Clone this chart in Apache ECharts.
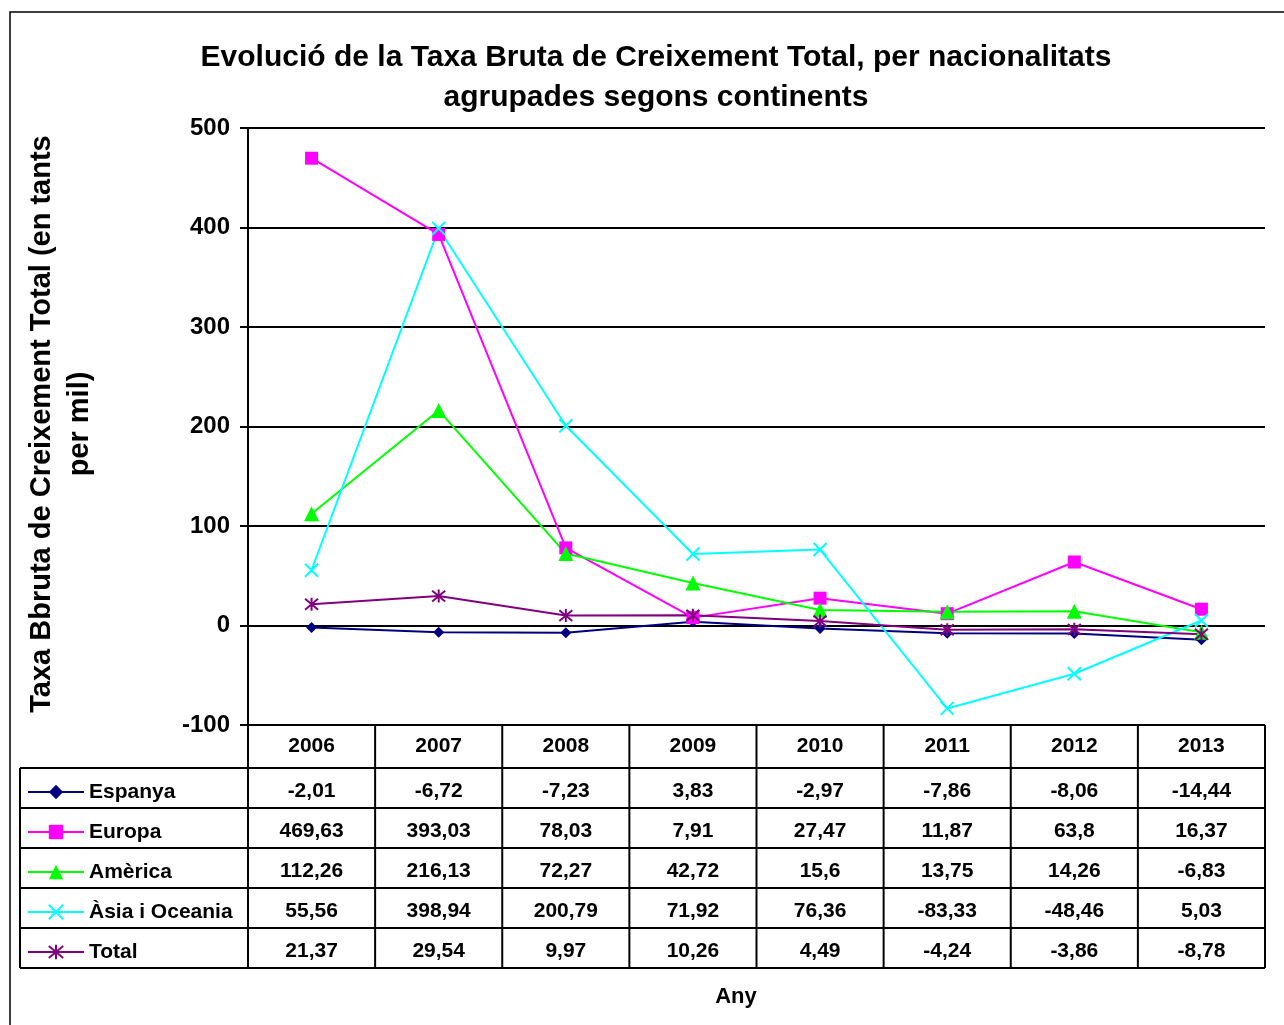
<!DOCTYPE html>
<html>
<head>
<meta charset="utf-8">
<script src="https://cdn.jsdelivr.net/npm/echarts@6/dist/echarts.min.js"></script>
<style>
    html,body{margin:0;padding:0;background:#fff;}
    #chart{width:1284px;height:1025px;}
</style>
</head>
<body>
<div id="chart"></div>
<script>
    // dades
    let years = ['2006','2007','2008','2009','2010','2011','2012','2013'];
    let names = ['Espanya','Europa','Amèrica','Àsia i Oceania','Total'];
    let espanya = [-2.01, -6.72, -7.23, 3.83, -2.97, -7.86, -8.06, -14.44];
    let europa = [469.63, 393.03, 78.03, 7.91, 27.47, 11.87, 63.8, 16.37];
    let america = [112.26, 216.13, 72.27, 42.72, 15.6, 13.75, 14.26, -6.83];
    let asia = [55.56, 398.94, 200.79, 71.92, 76.36, -83.33, -48.46, 5.03];
    let total = [21.37, 29.54, 9.97, 10.26, 4.49, -4.24, -3.86, -8.78];
    let yTicks = [-100, 0, 100, 200, 300, 400, 500];

    let font = '"Liberation Sans", Arial, sans-serif';
    let gridLeft = 248, gridRight = 1265, gridTop = 128, gridBottom = 725;
    let colW = (gridRight - gridLeft) / years.length;
    let rowTop = 768, rowH = 40, tableLeft = 20;

    function fmt(v){
        return String(v).replace('.', ',');
    }

    let seriesList = [
        {name: names[0], data: espanya, color: '#000080', symbol: 'diamond', size: 11, stroke: false},
        {name: names[1], data: europa, color: '#FF00FF', symbol: 'rect', size: 13, stroke: false},
        {name: names[2], data: america, color: '#00FF00', symbol: 'triangle', size: 15, stroke: false},
        {name: names[3], data: asia, color: '#00FFFF', symbol: 'path://M0,0L10,10M10,0L0,10', size: 13, stroke: true},
        {name: names[4], data: total, color: '#800080', symbol: 'path://M0,0L10,10M10,0L0,10M5,-1L5,11', size: 13, stroke: true}
    ];

    // taula de dades sota el gràfic
    let graphic = [];
    let lineStyle = {stroke: '#000', lineWidth: 2};
    let bottom = rowTop + rowH * names.length;
    function hline(x1, x2, y){
        graphic.push({type: 'line', shape: {x1: x1, y1: y, x2: x2, y2: y}, style: lineStyle, z: 10});
    }
    function vline(x, y1, y2){
        graphic.push({type: 'line', shape: {x1: x, y1: y1, x2: x, y2: y2}, style: lineStyle, z: 10});
    }
    for(let r = 0; r <= names.length; r++){
        hline(tableLeft, gridRight, rowTop + r * rowH);
    }
    vline(tableLeft, rowTop, bottom);
    for(let c = 0; c <= years.length; c++){
        vline(gridLeft + c * colW, gridBottom, bottom);
    }
    seriesList.forEach((s, r)=>{
        s.data.forEach((v, c)=>{
            graphic.push({
                type: 'text',
                x: gridLeft + (c + 0.5) * colW,
                y: rowTop + r * rowH + rowH / 2 + 3,
                style: {text: fmt(v), align: 'center', verticalAlign: 'middle',
                    font: 'bold 21px ' + font, fill: '#000'},
                z: 10
            });
        });
    });
    // vora exterior
    graphic.push({type: 'rect', shape: {x: 10, y: 12, width: 1300, height: 1040},
        style: {fill: 'none', stroke: '#000', lineWidth: 1.5}, z: 0});
    // títol de l'eix Y
    graphic.push({
        type: 'text', x: 61, y: 424, rotation: Math.PI / 2,
        style: {text: 'Taxa Bbruta de Creixement Total (en tants\nper mil)', align: 'center',
            verticalAlign: 'middle', lineHeight: 38, font: 'bold 29px ' + font, fill: '#000'}
    });
    // títol de l'eix X
    graphic.push({
        type: 'text', x: 736, y: 997,
        style: {text: 'Any', align: 'center', verticalAlign: 'middle',
            font: 'bold 22px ' + font, fill: '#000'}
    });

    var myChart = echarts.init(document.getElementById('chart'));
    let option = {
        animation: false,
        backgroundColor: '#fff',
        title: {
            text: 'Evolució de la Taxa Bruta de Creixement Total, per nacionalitats\nagrupades segons continents',
            left: 651,
            top: 33,
            textAlign: 'center',
            textStyle: {fontFamily: font, fontWeight: 'bold', fontSize: 30, lineHeight: 40, color: '#000'}
        },
        legend: {
            orient: 'vertical',
            left: 27,
            top: 781,
            padding: 0,
            itemWidth: 56,
            itemHeight: 18,
            itemGap: 18,
            data: names,
            textStyle: {fontFamily: font, fontWeight: 'bold', fontSize: 21, lineHeight: 22, color: '#000'}
        },
        grid: {
            left: gridLeft,
            right: 1284 - gridRight,
            top: gridTop,
            bottom: 1025 - gridBottom
        },
        xAxis: {
            type: 'category',
            data: years,
            boundaryGap: true,
            axisLine: {show: false},
            axisTick: {show: false},
            axisLabel: {margin: 11, fontFamily: font, fontWeight: 'bold', fontSize: 21, color: '#000'}
        },
        yAxis: {
            type: 'value',
            min: yTicks[0],
            max: yTicks[yTicks.length - 1],
            interval: 100,
            axisLine: {show: true, lineStyle: {color: '#000', width: 2}},
            axisTick: {show: true, length: 8, lineStyle: {color: '#000', width: 2}},
            axisLabel: {margin: 18, fontFamily: font, fontWeight: 'bold', fontSize: 24, color: '#000'},
            splitLine: {show: true, lineStyle: {color: '#000', width: 2}}
        },
        graphic: graphic,
        series: seriesList.map((s)=>{
            return {
                name: s.name,
                type: 'line',
                data: s.data,
                symbol: s.symbol,
                symbolSize: s.size,
                showSymbol: true,
                lineStyle: {color: s.color, width: 2},
                itemStyle: s.stroke
                    ? {color: 'rgba(0,0,0,0)', borderColor: s.color, borderWidth: 2}
                    : {color: s.color, borderWidth: 0},
                emphasis: {disabled: true}
            };
        })
    };
    myChart.setOption(option);
</script>
</body>
</html>
